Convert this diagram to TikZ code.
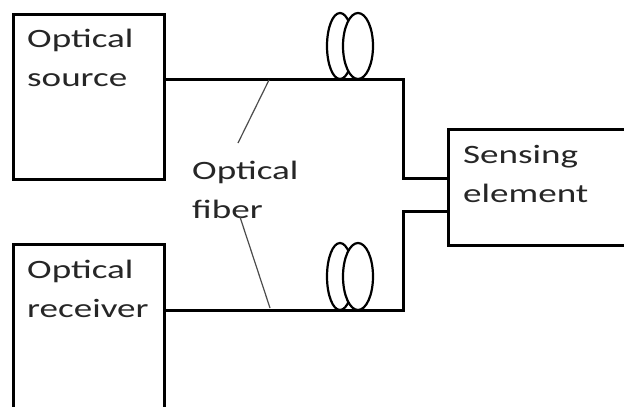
\documentclass[tikz,border=0pt]{standalone}
\usepackage{fontspec}
\setmainfont{Carlito}
\newcommand\xw[1]{\scalebox{1.4}[1]{#1}}
\tikzset{
  box/.style={draw=black, line width=3.4pt, fill=white, rectangle, inner sep=0pt, anchor=north west},
  lbl/.style={inner sep=0pt, anchor=base west, align=left, text=black!85,
              font=\fontsize{26.5}{39}\selectfont},
  fiber/.style={draw=black, line width=3pt, line join=miter},
  coil/.style={draw=black, line width=2.2pt, fill=white},
  pointer/.style={draw=black!70, line width=1.2pt}
}
\begin{document}
\begin{tikzpicture}[x=1pt, y=-1pt]
\useasboundingbox (0,0) rectangle (624,407);
\clip (0,0) rectangle (624,407);
\fill[white] (0,0) rectangle (624,407);

% boxes
\node[box, minimum width=151pt, minimum height=165pt] (src) at (12,13) {};
\node[box, minimum width=151pt, minimum height=200pt] (rcv) at (12,243) {};
\node[box, minimum width=200pt, minimum height=116pt] (sens) at (447,128) {};

% labels (anchored at the baseline of the last line)
\node[lbl] (srctxt) at (27,86) {\xw{Optical}\\\xw{source}};
\node[lbl] (rcvtxt) at (27,317) {\xw{Optical}\\\xw{receiver}};
\node[lbl] (senstxt) at (463,202) {\xw{Sensing}\\\xw{element}};
\node[lbl] (fibtxt) at (192,218) {\xw{Optical}\\\xw{fiber}};

% coils
\draw[coil] (340,46) ellipse [x radius=13, y radius=33];
\draw[coil] (358,46) ellipse [x radius=15, y radius=33];
\draw[coil] (340,276.5) ellipse [x radius=13, y radius=33.5];
\draw[coil] (358,276.5) ellipse [x radius=15, y radius=33.5];

% fibers
\coordinate (t1) at (403,79);
\coordinate (t2) at (403,178);
\coordinate (b1) at (403,310);
\coordinate (b2) at (403,211);
\draw[fiber] (src.east |- t1) -- (t1) -- (t2) -- (sens.west |- t2);
\draw[fiber] (rcv.east |- b1) -- (b1) -- (b2) -- (sens.west |- b2);

% pointers
\coordinate (p1) at (269,80);
\coordinate (p2) at (238,143);
\coordinate (p3) at (240,217);
\coordinate (p4) at (270,308);
\draw[pointer] (p1) -- (p2);
\draw[pointer] (p3) -- (p4);
\end{tikzpicture}
\end{document}
